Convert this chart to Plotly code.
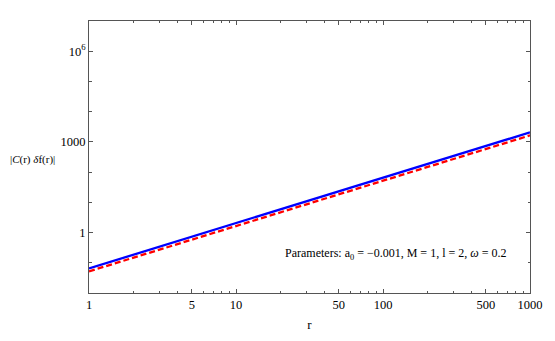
# log-log plot of |C(r) δf(r)| against r

import plotly.graph_objects as go

# values
r = [1, 10, 100, 1000]
blue_vals = [0.065, 2.06, 65, 2060]
red_vals = [0.052, 1.64, 52, 1640]

x_major = [1, 5, 10, 50, 100, 500, 1000]
x_major_text = ["1", "5", "10", "50", "100", "500", "1000"]
x_minor = [2, 3, 4, 6, 7, 8, 9, 20, 30, 40, 60, 70, 80, 90, 200, 300, 400, 600, 700, 800, 900]
y_major = [1, 1000, 1e6]
y_major_text = ["1", "1000", "10<sup>6</sup>"]
y_minor = [0.01, 0.1, 10, 100, 1e4, 1e5, 1e7]

font = "Liberation Serif, Times New Roman, serif"
frame = "#555555"

fig = go.Figure()
fig.add_trace(go.Scatter(x=r, y=blue_vals, mode="lines",
                         line=dict(color="rgb(0,0,255)", width=2.3)))
fig.add_trace(go.Scatter(x=r, y=red_vals, mode="lines",
                         line=dict(color="rgb(255,0,0)", width=2.3, dash="6px,3px")))

axis_style = dict(showgrid=False, zeroline=False, showline=True, linecolor=frame,
                  linewidth=1, mirror="ticks", ticks="inside", tickcolor=frame,
                  ticklen=4, ticklabeloverflow="allow",
                  tickfont=dict(family=font, size=12.5, color="black"))

fig.update_xaxes(type="log", range=[0, 3], tickmode="array", tickvals=x_major,
                 ticktext=x_major_text,
                 minor=dict(tickvals=x_minor, ticks="inside", ticklen=2, tickcolor=frame),
                 title=dict(text="r", font=dict(family=font, size=13, color="black"),
                            standoff=8),
                 **axis_style)
fig.update_yaxes(type="log", range=[-2, 7], tickmode="array", tickvals=y_major,
                 ticktext=y_major_text,
                 minor=dict(tickvals=y_minor, ticks="inside", ticklen=2.5, tickcolor=frame),
                 **axis_style)

fig.add_annotation(text="|<i>C</i>(r) <i>δ</i>f(r)|", xref="paper", yref="paper",
                   x=0, y=0.489, xanchor="right", yanchor="middle", xshift=-32,
                   showarrow=False, font=dict(family=font, size=11, color="black"))
fig.add_annotation(text="Parameters: a<sub>0</sub> = −0.001, M = 1, l = 2, <i>ω</i> = 0.2",
                   xref="paper", yref="paper", x=0.696, y=0.144,
                   xanchor="center", yanchor="middle", showarrow=False,
                   font=dict(family=font, size=12, color="black"))

# page body has an 8px margin, so the figure is 8px smaller and shifted
fig.update_layout(
    width=547, height=333,
    margin=dict(l=81, r=14, t=12, b=43),
    showlegend=False,
    plot_bgcolor="white", paper_bgcolor="white")

fig.write_html("out.html")
